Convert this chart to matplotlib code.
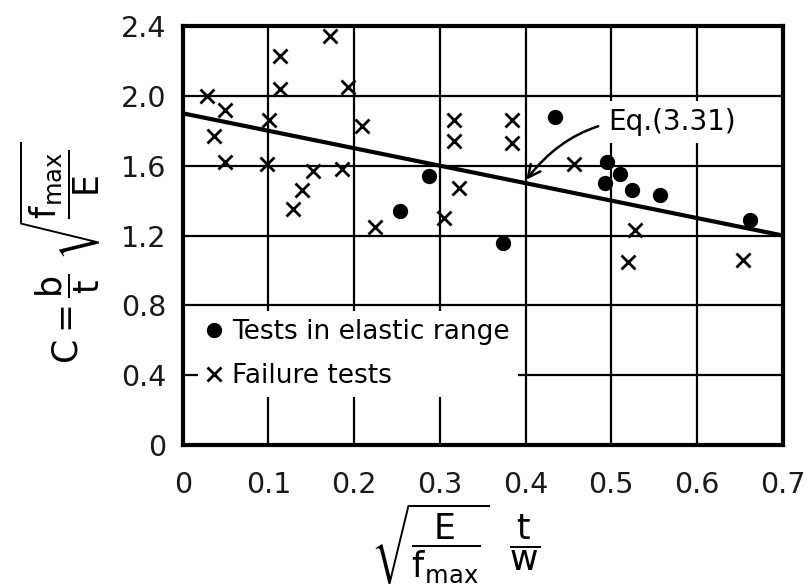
import matplotlib
matplotlib.use("Agg")
import matplotlib.pyplot as plt

# tests in elastic range (dots)
elastic_x = [0.254, 0.287, 0.374, 0.434, 0.493, 0.495, 0.510, 0.524, 0.557, 0.662]
elastic_y = [1.34, 1.54, 1.155, 1.88, 1.50, 1.62, 1.55, 1.46, 1.43, 1.29]

# failure tests (crosses)
fail_x = [0.028, 0.049, 0.036, 0.049, 0.098, 0.101, 0.114, 0.114, 0.172, 0.193,
          0.209, 0.152, 0.139, 0.129, 0.186, 0.224, 0.317, 0.317, 0.322, 0.305,
          0.384, 0.384, 0.456, 0.528, 0.520, 0.654]
fail_y = [2.00, 1.92, 1.77, 1.62, 1.61, 1.86, 2.23, 2.04, 2.34, 2.05,
          1.83, 1.57, 1.46, 1.35, 1.58, 1.25, 1.86, 1.74, 1.47, 1.30,
          1.86, 1.73, 1.61, 1.23, 1.05, 1.06]

# Eq. (3.31)
eq_x = [0.0, 0.7]
eq_y = [1.9, 1.2]

xticks = [0, 0.1, 0.2, 0.3, 0.4, 0.5, 0.6, 0.7]
xlabels = ["0", "0.1", "0.2", "0.3", "0.4", "0.5", "0.6", "0.7"]
yticks = [0, 0.4, 0.8, 1.2, 1.6, 2.0, 2.4]
ylabels = ["0", "0.4", "0.8", "1.2", "1.6", "2.0", "2.4"]

plt.rcParams['font.family'] = ['DejaVu Sans']
plt.rcParams['mathtext.fontset'] = 'dejavusans'

fig = plt.figure(figsize=(8.07, 5.86), dpi=100)
ax = fig.add_axes([0.2264, 0.2406, 0.7435, 0.715])

ax.set_xlim(0, 0.7)
ax.set_ylim(0, 2.4)
ax.set_xticks(xticks)
ax.set_xticklabels(xlabels)
ax.set_yticks(yticks)
ax.set_yticklabels(ylabels)
ax.tick_params(length=0, labelsize=20.5, colors='#1a1a1a')
ax.tick_params(axis='x', pad=19)
ax.tick_params(axis='y', pad=12)
ax.grid(True, color='black', linewidth=1.6, zorder=0)
ax.set_axisbelow(True)
for s in ax.spines.values():
    s.set_linewidth(3)

ax.plot(eq_x, eq_y, color='black', linewidth=3, zorder=2)
ax.plot(fail_x, fail_y, linestyle='none', marker='x', markersize=10,
        markeredgewidth=2, color='black', zorder=3, label='Failure tests')
ax.plot(elastic_x, elastic_y, linestyle='none', marker='o', markersize=10,
        color='black', zorder=3, label='Tests in elastic range')

ax.annotate("Eq.(3.31)", xy=(0.401, 1.52), xytext=(0.496, 1.85),
            fontsize=20, ha='left', va='center', zorder=4,
            bbox=dict(boxstyle='square,pad=0.25', fc='white', ec='none'),
            arrowprops=dict(arrowstyle='->', color='black', linewidth=1.8,
                            mutation_scale=22, shrinkA=2, shrinkB=0,
                            connectionstyle='arc3,rad=0.3'))

h, l = ax.get_legend_handles_labels()
leg = ax.legend(h[::-1], l[::-1], loc='upper left', bbox_to_anchor=(0.025, 0.32),
                fontsize=19, frameon=True, handlelength=0.6, handletextpad=0.4,
                labelspacing=0.7, borderpad=0.3, borderaxespad=0)
leg.get_frame().set_facecolor('white')
leg.get_frame().set_edgecolor('none')
leg.get_frame().set_alpha(1)

ax.set_ylabel(r'$\mathrm{C}=\dfrac{\mathrm{b}}{\mathrm{t}}\ \sqrt{\dfrac{\mathrm{f_{max}}}{\mathrm{E}}}$',
              fontsize=25)
ax.yaxis.set_label_coords(-0.205, 0.46)
ax.yaxis.label.set_verticalalignment('center')
ax.set_xlabel(r'$\sqrt{\dfrac{\mathrm{E}}{\mathrm{f_{max}}}}\ \ \dfrac{\mathrm{t}}{\mathrm{w}}$',
              fontsize=25)
ax.xaxis.set_label_coords(0.454, -0.235)
ax.xaxis.label.set_verticalalignment('center')

fig.savefig('out.png', dpi=100)
